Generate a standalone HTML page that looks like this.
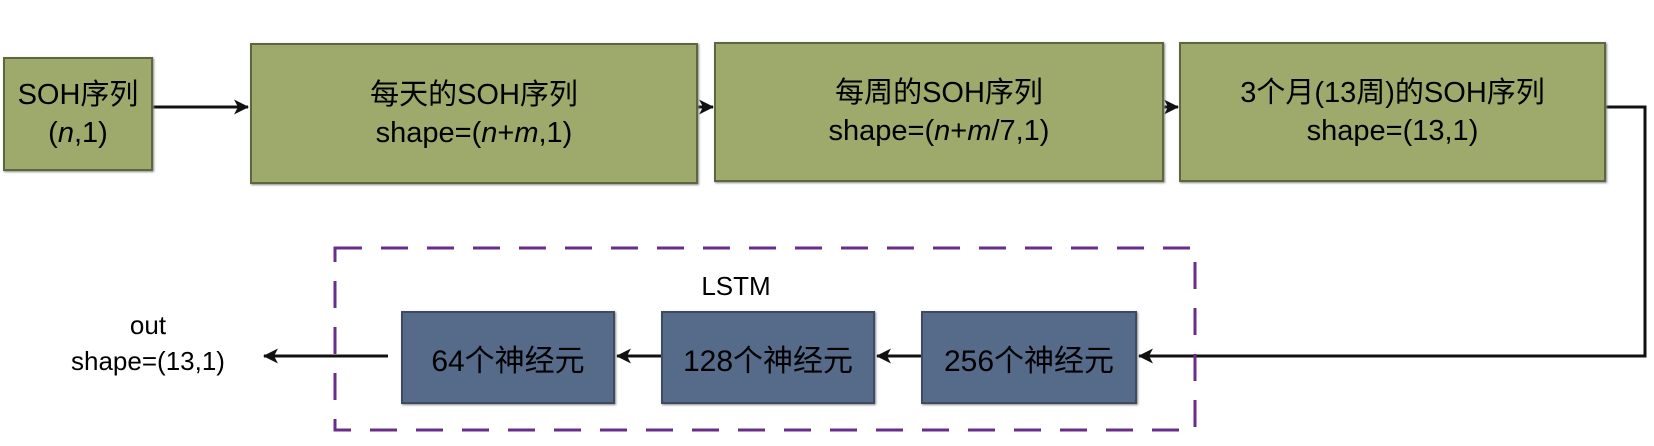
<!DOCTYPE html>
<html><head><meta charset="utf-8"><style>
body{margin:0;width:1654px;height:446px;background:#fff;position:relative;overflow:hidden;font-family:"Liberation Sans","Noto Sans CJK SC",sans-serif;}
.g{position:absolute;background:#9ea96c;border:2px solid #5e6640;box-sizing:border-box;display:flex;flex-direction:column;align-items:center;justify-content:center;font-size:29px;color:#000;line-height:38px;text-align:center;box-shadow:1px 1px 2px #888;}
.b{position:absolute;background:#566a8a;border:2px solid #3e4a60;box-sizing:border-box;display:flex;align-items:center;justify-content:center;font-size:30px;color:#000;box-shadow:1px 1px 2px #888;}
.t{position:absolute;font-size:26px;color:#000;text-align:center;line-height:36px;}
</style></head><body>
<svg width="1654" height="446" style="position:absolute;left:0;top:0">
<defs><marker id="a" markerWidth="15" markerHeight="15" refX="14" refY="7.5" orient="auto" markerUnits="userSpaceOnUse"><path d="M0,0 L15,7.5 L0,15 L4,7.5z" fill="#111"/></marker></defs>
<g stroke="#111" stroke-width="3" fill="none">
<line x1="153" y1="107" x2="248" y2="107" marker-end="url(#a)"/>
<line x1="698" y1="107" x2="713" y2="107" marker-end="url(#a)"/>
<line x1="1164" y1="107" x2="1178" y2="107" marker-end="url(#a)"/>
<polyline points="1606,107 1645,107 1645,356 1139,356" marker-end="url(#a)"/>
<line x1="921" y1="356" x2="877" y2="356" marker-end="url(#a)"/>
<line x1="661" y1="356" x2="617" y2="356" marker-end="url(#a)"/>
<line x1="388" y1="356" x2="264" y2="356" marker-end="url(#a)"/>
</g>
<rect x="335" y="248" width="860" height="182" fill="none" stroke="#6a2d8a" stroke-width="3" stroke-dasharray="27,19"/>
</svg>
<div class="g" style="left:3px;top:57px;width:150px;height:114px"><div>SOH序列</div><div>(<i>n</i>,1)</div></div>
<div class="g" style="left:250px;top:43px;width:448px;height:141px"><div>每天的SOH序列</div><div>shape=(<i>n</i>+<i>m</i>,1)</div></div>
<div class="g" style="left:714px;top:42px;width:450px;height:140px"><div>每周的SOH序列</div><div>shape=(<i>n</i>+<i>m</i>/7,1)</div></div>
<div class="g" style="left:1179px;top:42px;width:427px;height:140px"><div>3个月(13周)的SOH序列</div><div>shape=(13,1)</div></div>
<div class="t" style="left:686px;top:268px;width:100px">LSTM</div>
<div class="b" style="left:401px;top:311px;width:214px;height:93px">64个神经元</div>
<div class="b" style="left:661px;top:311px;width:214px;height:93px">128个神经元</div>
<div class="b" style="left:921px;top:311px;width:216px;height:93px">256个神经元</div>
<div class="t" style="left:38px;top:307px;width:220px">out<br>shape=(13,1)</div>
</body></html>
